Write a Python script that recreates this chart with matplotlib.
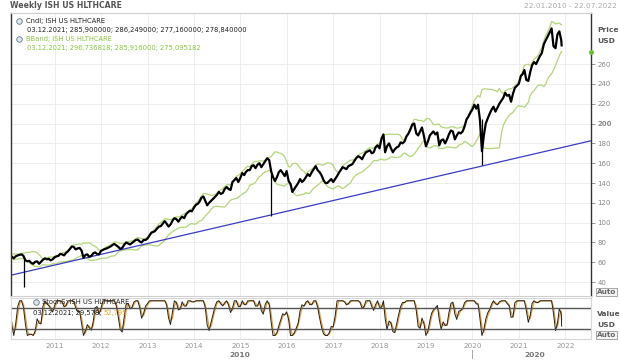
import numpy as np
import pandas as pd
import matplotlib
matplotlib.use("Agg")
import matplotlib.pyplot as plt
import matplotlib.dates as mdates

# Month-end closes (ISH US HLTHCARE, USD)
close_month_end = [
    65.5, 66, 67.5, 66.5, 61, 59.5, 60.5, 58.5, 62.5, 63, 62, 65,          # 2010
    66.5, 68, 69.5, 73.5, 75.5, 74, 72, 67.5, 65.5, 69, 68.5, 71.5,        # 2011
    73.5, 75, 77.5, 77, 73.5, 77.5, 79, 79.5, 82.5, 81, 82.5, 84,          # 2012
    90, 91.5, 96, 99, 99, 98, 104.5, 101, 106, 108.5, 112, 115,            # 2013
    119, 125, 122, 120, 124, 128, 129, 134, 134, 141, 145, 145,            # 2014
    148, 153, 157, 155, 160, 159, 165, 152, 142, 151, 150, 152,            # 2015
    139, 134, 140, 141, 146, 147, 154, 153, 148, 140, 142, 141,            # 2016
    147, 153, 155, 157, 159, 165, 166, 168, 172, 170, 176, 175,            # 2017
    189, 177, 175, 174, 177, 180, 187, 194, 200, 188, 196, 177,            # 2018
    188, 192, 191, 183, 180, 189, 192, 188, 190, 197, 207, 214,            # 2019
    215, 204, 188, 205, 214, 212, 220, 226, 228, 222, 236, 240,            # 2020
    250, 244, 252, 262, 264, 271, 284, 292, 278, 290, 284,                 # 2021
]
# mid-month closes
close_mid_month = [
    67, 64, 67, 68, 62, 61.5, 58.5, 61, 60.5, 64, 63.5, 63,                # 2010
    66, 68.5, 67, 71, 76, 73, 74.5, 64.5, 68, 66.5, 70, 68,                # 2011
    72.5, 74, 76, 78.5, 75.5, 74.5, 80, 78, 81, 83, 80, 82.5,              # 2012
    87, 90.5, 94, 96.5, 101.5, 96, 102, 103.5, 104, 104.5, 110.5, 111.5,   # 2013
    118, 121, 126.5, 117.5, 122, 126, 131, 130, 136, 133, 143, 141,        # 2014
    150, 151, 153, 158, 158.5, 156, 162, 163, 146, 146, 153, 147,          # 2015
    142, 131, 137, 144, 143, 149, 151, 157, 151, 143, 140, 144,            # 2016
    144, 150, 156, 154, 158, 162, 167, 164, 171, 173, 171, 178,            # 2017
    185, 171, 180, 171, 176, 181, 182, 190, 199, 190, 192, 187,            # 2018
    182, 190, 189, 178, 184, 184, 193, 184, 191, 192, 204, 211,            # 2019
    219, 219, 172, 200, 210, 217, 216, 223, 231, 229, 230, 238,            # 2020
    248, 254, 243, 259, 260, 268, 280, 288, 296, 276, 293,                 # 2021
]
last_date = "2021-12-03"
last_close = 278.84

# long candle wicks
wick_dates = ["2010-05-07", "2015-08-28", "2020-03-20"]
wick_lows = [35, 107, 158]
wick_highs = [64, 150, 205]

# blue trend line
trend_dates = ["2010-01-22", "2022-07-22"]
trend_prices = [47, 182.6]

price_ticks = list(range(40, 261, 20))
year_ticks = list(range(2011, 2023))

month_ends = pd.date_range("2010-01-31", "2021-11-30", freq="ME")
mid_dates = month_ends - pd.Timedelta(days=15)
idx, vals = [], []
for d_mid, v_mid, d_end, v_end in zip(mid_dates, close_mid_month, month_ends, close_month_end):
    idx += [d_mid, d_end]
    vals += [v_mid, v_end]
close = pd.Series(vals + [last_close], index=idx + [pd.Timestamp(last_date)])

# Bollinger bands (~20 weeks) and slow stochastic (~14 weeks) from the closes
mid = close.rolling(10, min_periods=2).mean()
sd = close.rolling(10, min_periods=2).std()
upper = mid + 2 * sd
lower = mid - 2 * sd
lo = close.rolling(7, min_periods=1).min()
hi = close.rolling(7, min_periods=1).max()
fast_k = (100 * (close - lo) / (hi - lo)).fillna(50)
slow_k = fast_k.rolling(2, min_periods=1).mean()
slow_d = slow_k.rolling(2, min_periods=1).mean()

x0, x1 = pd.Timestamp("2010-01-22"), pd.Timestamp("2022-07-22")
grid_c = "#ebebeb"
bb_c = "#b3d67a"
plt.rcParams["font.family"] = ["DejaVu Sans"]

fig = plt.figure(figsize=(6.2, 3.61), dpi=100)
ax = fig.add_axes([0.0177, 0.180, 0.9355, 0.784])
ax2 = fig.add_axes([0.0177, 0.061, 0.9355, 0.1135])

# main panel
ax.plot(close.index, upper, color=bb_c, lw=0.9)
ax.plot(close.index, lower, color=bb_c, lw=0.9)
ax.plot(pd.to_datetime(trend_dates), trend_prices, color="#3b3bc4", lw=0.9)
ax.vlines(pd.to_datetime(wick_dates), wick_lows, wick_highs, color="black", lw=0.9)
ax.plot(close.index, close.values, color="black", lw=1.6)
ax.set_xlim(x0, x1)
ax.set_ylim(26, 311.5)
ax.yaxis.tick_right()
ax.set_yticks(price_ticks)
ax.set_yticklabels([str(t) for t in price_ticks])
for lab in ax.get_yticklabels():
    if lab.get_text() == "200":
        lab.set_fontweight("bold")
        lab.set_color("#444444")
ax.tick_params(axis="y", labelsize=5, colors="#888888", length=3, width=0.6, pad=1.5)
ax.set_xticks([pd.Timestamp(f"{y}-01-01") for y in year_ticks])
ax.tick_params(axis="x", bottom=False, labelbottom=False)
ax.grid(True, color=grid_c, lw=0.6)
for s in ["top", "bottom"]:
    ax.spines[s].set_color("#d0d0d0")
    ax.spines[s].set_linewidth(0.8)
ax.spines["left"].set_color("#333333")
ax.spines["right"].set_color("#333333")
ax.spines["left"].set_linewidth(1.0)
ax.spines["right"].set_linewidth(1.0)
ax.plot([x1], [lower.iloc[-1]], "o", color="#6cbf2a", ms=2.5, clip_on=False, zorder=5)

# stochastic panel
ax2.plot(slow_d.index, slow_d.values, color="#e8a23c", lw=0.9)
ax2.plot(slow_k.index, slow_k.values, color="#222222", lw=0.7)
ax2.axhline(80, color="#555555", lw=1.0)
ax2.axhline(20, color="#555555", lw=1.0)
ax2.set_xlim(x0, x1)
ax2.set_ylim(-10, 108)
ax2.set_yticks([])
ax2.set_xticks([pd.Timestamp(f"{y}-01-01") for y in year_ticks])
ax2.set_xticklabels([str(y) for y in year_ticks])
ax2.tick_params(axis="x", labelsize=5.2, colors="#999999", length=0, pad=3)
ax2.grid(True, axis="x", color=grid_c, lw=0.6)
for s in ax2.spines.values():
    s.set_color("#d8d8d8")
    s.set_linewidth(0.8)

# texts
fig.text(10 / 620, 1 - 6 / 361, "Weekly ISH US HLTHCARE", fontsize=5.6, fontweight="bold",
         color="#555555", va="center")
fig.text(617 / 620, 1 - 6 / 361, "22.01.2010 - 22.07.2022", fontsize=5.3, color="#aaaaaa",
         ha="right", va="center")
leg = [(21, 26, "Cndl; ISH US HLTHCARE", "#222222"),
       (30, 27, "03.12.2021; 285,900000; 286,249000; 277,160000; 278,840000", "#222222"),
       (39, 26, "BBand; ISH US HLTHCARE", "#8cc63f"),
       (48, 27, "03.12.2021; 296,736818; 285,916000; 275,095182", "#8cc63f")]
for yy, xx, txt, col in leg:
    fig.text(xx / 620, 1 - yy / 361, txt, fontsize=4.9, color=col, va="center")
for xx, yy in ((19, 21), (19, 39), (36, 302)):
    fig.add_artist(plt.Line2D([xx / 620], [1 - yy / 361], marker="o", ms=4, mfc="#dde6f0",
                              mec="#667788", mew=0.6, transform=fig.transFigure))
fig.text(42 / 620, 1 - 302 / 361, "StochS; ISH US HLTHCARE", fontsize=4.9, color="#222222",
         va="center")
t = fig.text(33 / 620, 1 - 313 / 361, "03.12.2021; 29,578; ", fontsize=4.9, color="#222222",
             va="center")
fig.canvas.draw()
bb = t.get_window_extent()
fig.text(bb.x1 / fig.bbox.width, 1 - 313 / 361, "52,795", fontsize=4.9, color="#f0a030",
         va="center")

for yy, txt in [(30, "Price"), (41, "USD"), (314, "Value"), (325, "USD")]:
    fig.text(597 / 620, 1 - yy / 361, txt, fontsize=5.4, fontweight="bold", color="#555555",
             va="center")
for yy in (292, 335):
    fig.text(616 / 620, 1 - yy / 361, "Auto", fontsize=5.2, fontweight="bold", color="#666666",
             ha="right", va="center",
             bbox=dict(boxstyle="square,pad=0.15", fc="#f4f4f4", ec="#999999", lw=0.6))

fig.text(240 / 620, 1 - 355 / 361, "2010", fontsize=5.4, fontweight="bold", color="#777777",
         ha="center", va="center")
fig.text(535 / 620, 1 - 355 / 361, "2020", fontsize=5.4, fontweight="bold", color="#777777",
         ha="center", va="center")
xd = mdates.date2num(pd.Timestamp("2020-01-01"))
tr = matplotlib.transforms.blended_transform_factory(ax2.transData, fig.transFigure)
fig.add_artist(plt.Line2D([xd, xd], [1 - 350 / 361, 1 - 358 / 361], color="#999999", lw=0.6,
                          transform=tr))

fig.savefig("out.png", dpi=100)
